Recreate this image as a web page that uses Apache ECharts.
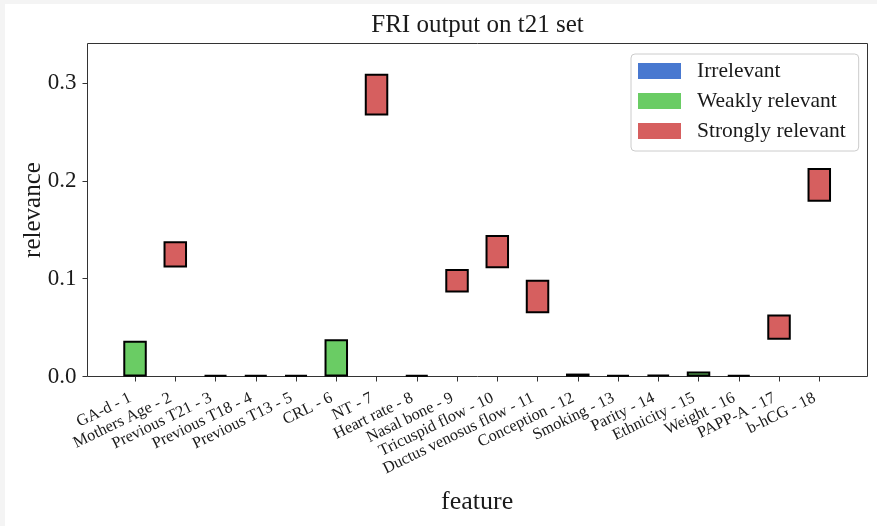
<!DOCTYPE html>
<html>
<head>
<meta charset="utf-8">
<script src="https://cdn.jsdelivr.net/npm/echarts@6/dist/echarts.min.js"></script>
<style>
html,body{margin:0;padding:0;background:#fff;}
#c{position:absolute;left:0;top:0;width:877px;height:526px;}
.strip{position:absolute;background:#f4f4f4;pointer-events:none;}
</style>
</head>
<body>
<div id="c"></div>
<div class="strip" style="left:0;top:0;width:877px;height:4px"></div>
<div class="strip" style="left:0;top:0;width:5px;height:526px"></div>
<script>
const features = ["GA-d - 1","Mothers Age - 2","Previous T21 - 3","Previous T18 - 4","Previous T13 - 5","CRL - 6","NT - 7","Heart rate - 8","Nasal bone - 9","Tricuspid flow - 10","Ductus venosus flow - 11","Conception - 12","Smoking - 13","Parity - 14","Ethnicity - 15","Weight - 16","PAPP-A - 17","b-hCG - 18"];
const lower = [0, 0.1115, 0, 0, 0, 0, 0.2669, 0, 0.0859, 0.1108, 0.0648, 0, 0, 0, 0, 0, 0.0375, 0.1786];
const upper = [0.0366, 0.1384, 0.0015, 0.0015, 0.0015, 0.0382, 0.3095, 0.0015, 0.1098, 0.1446, 0.0989, 0.0030, 0.0015, 0.0018, 0.0050, 0.0015, 0.0634, 0.2131];
const relevanceClass = ["Weakly relevant","Strongly relevant","Irrelevant","Irrelevant","Irrelevant","Weakly relevant","Strongly relevant","Irrelevant","Strongly relevant","Strongly relevant","Strongly relevant","Irrelevant","Irrelevant","Irrelevant","Weakly relevant","Irrelevant","Strongly relevant","Strongly relevant"];
const classNames = ["Irrelevant","Weakly relevant","Strongly relevant"];
const classColors = ["#4878d0","#6acc64","#d65f5f"];
const yTicks = [0, 0.1, 0.2, 0.3];
const yMax = 0.3405;

const FONT = "'Liberation Serif', 'DejaVu Serif', serif";
const chart = echarts.init(document.getElementById('c'), null, {renderer: 'canvas'});

const classSeries = classNames.map((n, k) => ({
  name: n,
  type: 'bar',
  xAxisIndex: 1,
  yAxisIndex: 1,
  stack: 'range',
  barWidth: 23.5,
  data: features.map((f, i) => relevanceClass[i] === n ? +(upper[i] - lower[i]).toFixed(5) : '-'),
  itemStyle: {color: classColors[k], borderColor: '#000', borderWidth: 2},
  emphasis: {disabled: true}
}));

chart.setOption({
  animation: false,
  title: {
    text: 'FRI output on t21 set',
    left: 477.5, top: 13, textAlign: 'center', padding: 0,
    textStyle: {fontFamily: FONT, fontSize: 25, fontWeight: 'normal', color: '#1a1a1a'}
  },
  legend: {
    data: classNames,
    orient: 'vertical',
    left: 631, top: 54,
    padding: [6, 13, 9, 7],
    itemWidth: 43, itemHeight: 16, itemGap: 8,
    icon: 'rect',
    itemStyle: {borderWidth: 0},
    backgroundColor: '#ffffff',
    borderColor: '#cccccc', borderWidth: 1, borderRadius: 4,
    textStyle: {fontFamily: FONT, fontSize: 21.5, color: '#1a1a1a', padding: [0, 0, 0, 11]}
  },
  grid: [
    {left: 87.5, top: 43.5, width: 780, height: 333, show: true, borderColor: '#333', borderWidth: 1, backgroundColor: 'transparent'},
    {left: 114.9, top: 43.5, width: 724.5, height: 333}
  ],
  xAxis: [
    {gridIndex: 0, type: 'value', min: 0, max: 1, show: false},
    {
      gridIndex: 1, type: 'category', data: features, boundaryGap: true,
      axisLine: {show: false},
      axisTick: {show: true, alignWithLabel: true, length: 5, lineStyle: {color: '#333', width: 1}},
      axisLabel: {interval: 0, rotate: 26, margin: 18.5, padding: [0, 5, 0, 0], fontFamily: FONT, fontSize: 16.3, color: '#1a1a1a'},
      splitLine: {show: false},
      name: 'feature', nameLocation: 'middle', nameGap: 113, nameMoveOverlap: false,
      nameTextStyle: {fontFamily: FONT, fontSize: 26, color: '#1a1a1a'}
    }
  ],
  yAxis: [
    {gridIndex: 0, type: 'value', min: 0, max: 1, show: false},
    {
      gridIndex: 1, type: 'value', min: 0, max: yMax, offset: 27.4,
      axisLine: {show: false},
      splitLine: {show: false},
      axisTick: {show: true, length: 5, customValues: yTicks, lineStyle: {color: '#333', width: 1}},
      axisLabel: {customValues: yTicks, formatter: v => v.toFixed(1), fontFamily: FONT, fontSize: 23, color: '#1a1a1a', margin: 11},
      name: 'relevance', nameLocation: 'middle', nameGap: 42, nameMoveOverlap: false,
      nameTextStyle: {fontFamily: FONT, fontSize: 25, color: '#1a1a1a'}
    }
  ],
  series: [
    {
      name: 'base', type: 'bar', xAxisIndex: 1, yAxisIndex: 1, stack: 'range', barWidth: 23.5,
      data: lower, silent: true,
      itemStyle: {color: 'rgba(0,0,0,0)', borderWidth: 0},
      emphasis: {disabled: true}
    },
    ...classSeries
  ]
});
</script>
</body>
</html>
